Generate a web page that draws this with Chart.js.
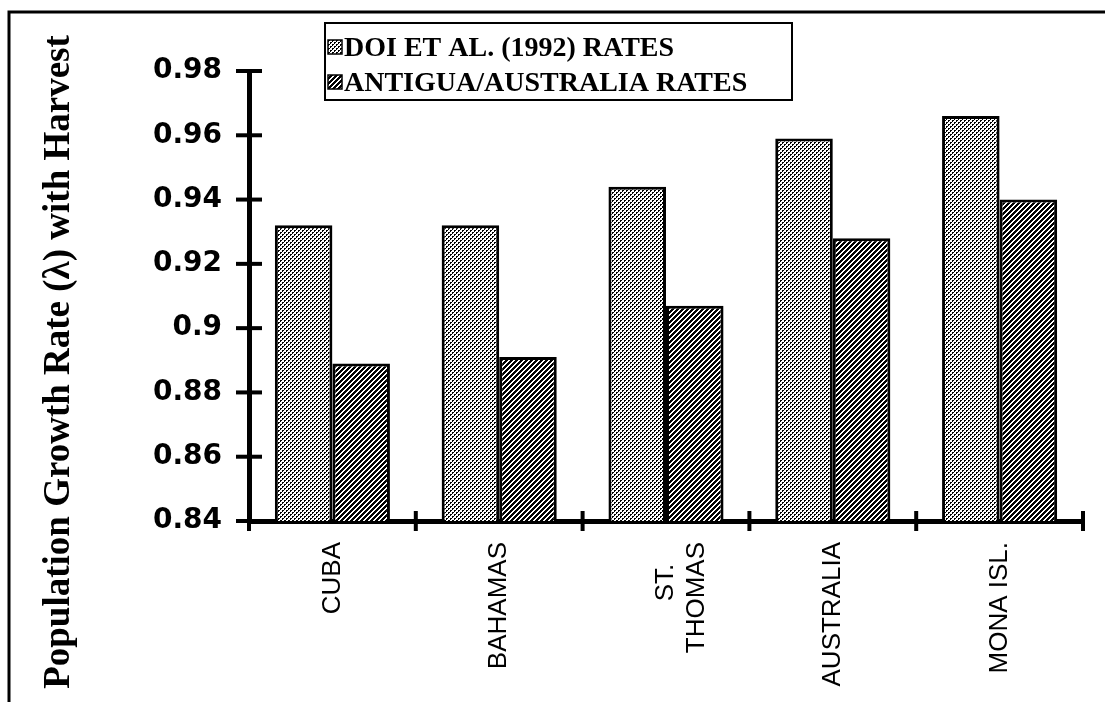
<!DOCTYPE html>
<html>
<head>
<meta charset="utf-8">
<script src="https://cdn.jsdelivr.net/npm/chart.js@4.4.0/dist/chart.umd.min.js"></script>
<style>
  html, body { margin: 0; padding: 0; background: #fff; }
</style>
</head>
<body>
<canvas id="lambdaChart" width="1105" height="702"></canvas>
<script>
// values
var locations = ['CUBA', 'BAHAMAS', ['ST.   ', 'THOMAS'], 'AUSTRALIA', 'MONA ISL.'];
var doiRates = [0.932, 0.932, 0.944, 0.959, 0.966];
var antiguaRates = [0.889, 0.891, 0.907, 0.928, 0.940];
var yTicks = [0.84, 0.86, 0.88, 0.9, 0.92, 0.94, 0.96, 0.98];
var seriesNames = ['DOI ET AL. (1992) RATES', 'ANTIGUA/AUSTRALIA RATES'];
var yTitle = 'Population Growth Rate (\u03bb) with Harvest';

function makePattern(kind) {
    var size = kind === 'dots' ? 4 : 5;
    var c = document.createElement('canvas');
    c.width = size; c.height = size;
    var g = c.getContext('2d');
    g.fillStyle = '#fff';
    g.fillRect(0, 0, size, size);
    g.fillStyle = '#000';
    for (var x = 0; x < size; x++) {
        for (var y = 0; y < size; y++) {
            if (kind === 'dots') {
                // small 3-pixel dots on a diagonal grid
                if ((x === 0 && y === 0) || (x === 1 && y === 0) || (x === 0 && y === 1) ||
                    (x === 2 && y === 2) || (x === 3 && y === 2) || (x === 2 && y === 3)) {
                    g.fillRect(x, y, 1, 1);
                }
            } else if ((x + y) % size < 3) {
                g.fillRect(x, y, 1, 1);
            }
        }
    }
    return g.createPattern(c, 'repeat');
}

var dotFill = makePattern('dots');
var hatchFill = makePattern('hatch');

var decorPlugin = {
    id: 'decor',
    afterDraw: function(chart) {
        var ctx = chart.ctx;
        var xs = chart.scales.x, ys = chart.scales.y;
        var area = chart.chartArea;
        ctx.save();
        ctx.strokeStyle = '#000';

        // frame of the scanned page
        ctx.lineWidth = 3;
        ctx.beginPath();
        ctx.moveTo(9, 702);
        ctx.lineTo(9, 12);
        ctx.lineTo(1105, 12);
        ctx.stroke();

        // y tick marks crossing the axis
        ctx.lineWidth = 4;
        yTicks.forEach(function(v) {
            var y = ys.getPixelForValue(v);
            ctx.beginPath();
            ctx.moveTo(area.left - 13, y);
            ctx.lineTo(area.left + 13, y);
            ctx.stroke();
        });

        // x tick marks at category boundaries
        for (var i = 0; i <= locations.length; i++) {
            var x = xs.getPixelForValue(i - 0.5);
            ctx.beginPath();
            ctx.moveTo(x, area.bottom - 10);
            ctx.lineTo(x, area.bottom + 10);
            ctx.stroke();
        }

        // y axis title
        ctx.fillStyle = '#000';
        ctx.font = 'bold 37px "Liberation Serif"';
        ctx.textAlign = 'center';
        ctx.textBaseline = 'middle';
        ctx.translate(59, 362);
        ctx.rotate(-Math.PI / 2);
        ctx.fillText(yTitle, 0, 0);
        ctx.restore();

        // legend box
        ctx.save();
        var lx = area.left + 76, ly = 23;
        ctx.lineWidth = 2;
        ctx.strokeStyle = '#000';
        ctx.strokeRect(lx, ly, 467, 77);
        var fills = [dotFill, hatchFill];
        ctx.font = 'bold 28px "Liberation Serif"';
        ctx.textBaseline = 'middle';
        ctx.textAlign = 'left';
        seriesNames.forEach(function(name, k) {
            var cy = ly + 25 + k * 35;
            ctx.fillStyle = fills[k];
            ctx.fillRect(lx + 3, cy - 8, 14, 14);
            ctx.lineWidth = 1.5;
            ctx.strokeRect(lx + 3, cy - 8, 14, 14);
            ctx.fillStyle = '#000';
            ctx.fillText(name, lx + 19, cy + 1);
        });
        ctx.restore();
    }
};

var ctx = document.getElementById('lambdaChart').getContext('2d');
var chart = new Chart(ctx, {
    type: 'bar',
    data: {
        labels: locations,
        datasets: [
            {
                label: seriesNames[0],
                data: doiRates,
                backgroundColor: dotFill,
                borderColor: '#000',
                borderWidth: 3,
                barPercentage: 1,
                categoryPercentage: 0.69
            },
            {
                label: seriesNames[1],
                data: antiguaRates,
                backgroundColor: hatchFill,
                borderColor: '#000',
                borderWidth: 3,
                barPercentage: 1,
                categoryPercentage: 0.69
            }
        ]
    },
    options: {
        responsive: false,
        animation: false,
        layout: { padding: { top: 71, right: 22, left: 0, bottom: 0 } },
        plugins: {
            legend: { display: false },
            tooltip: { enabled: false }
        },
        scales: {
            x: {
                afterFit: function(scale) { scale.height = 181; },
                grid: { display: false, drawTicks: false, offset: true },
                border: { color: '#000', width: 5 },
                ticks: {
                    color: '#000',
                    font: { family: 'Liberation Sans', size: 26 },
                    maxRotation: 90,
                    minRotation: 90,
                    padding: 21,
                    autoSkip: false
                }
            },
            y: {
                min: 0.84,
                max: 0.98,
                afterFit: function(scale) { scale.width = 249; },
                afterBuildTicks: function(scale) {
                    scale.ticks = yTicks.map(function(v) { return { value: v }; });
                },
                grid: { display: false, drawTicks: false },
                border: { color: '#000', width: 5 },
                ticks: {
                    color: '#000',
                    font: { family: 'DejaVu Sans', weight: 'bold', size: 28 },
                    padding: 27,
                    callback: function(v) { return String(v); }
                }
            }
        }
    },
    plugins: [decorPlugin]
});
</script>
</body>
</html>
